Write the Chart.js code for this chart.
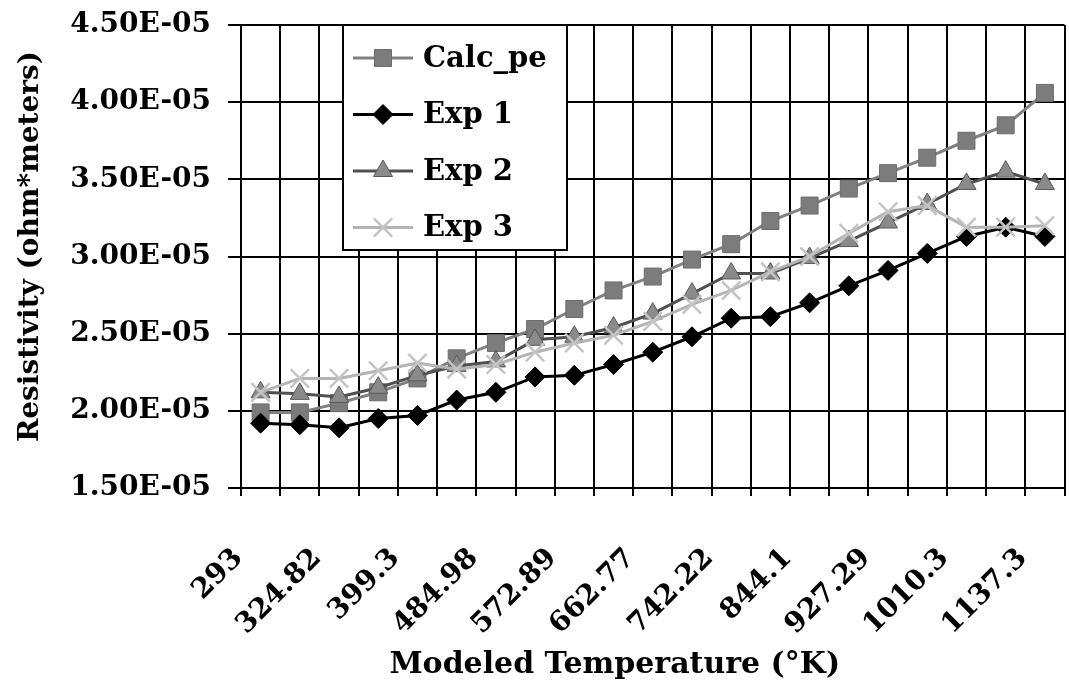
<!DOCTYPE html>
<html>
<head>
<meta charset="utf-8">
<title>Resistivity vs Modeled Temperature</title>
<script src="https://cdn.jsdelivr.net/npm/chart.js@4"></script>
<style>
  html, body { margin: 0; padding: 0; background: #fff; overflow: hidden; }
  #wrap { width: 1069px; height: 689px; overflow: hidden; position: relative; }
  canvas { position: absolute; left: 0; top: 0; }
</style>
</head>
<body>
<div id="wrap"><canvas id="chart" width="1080" height="689"></canvas></div>
<script>
// modeled temperature (K) - only every other category is labelled on the axis
const temps = ['293', '', '324.82', '', '399.3', '', '484.98', '', '572.89', '', '662.77',
    '', '742.22', '', '844.1', '', '927.29', '', '1010.3', '', '1137.3'];

// resistivity, ohm*meters
const calcPe = [1.99e-5, 1.99e-5, 2.05e-5, 2.12e-5, 2.21e-5, 2.34e-5, 2.44e-5, 2.53e-5, 2.66e-5, 2.78e-5, 2.87e-5,
    2.98e-5, 3.08e-5, 3.23e-5, 3.33e-5, 3.44e-5, 3.54e-5, 3.64e-5, 3.75e-5, 3.85e-5, 4.06e-5];
const exp1 = [1.92e-5, 1.91e-5, 1.89e-5, 1.95e-5, 1.97e-5, 2.07e-5, 2.12e-5, 2.22e-5, 2.23e-5, 2.30e-5, 2.38e-5,
    2.48e-5, 2.60e-5, 2.61e-5, 2.70e-5, 2.81e-5, 2.91e-5, 3.02e-5, 3.13e-5, 3.19e-5, 3.13e-5];
const exp2 = [2.12e-5, 2.11e-5, 2.09e-5, 2.15e-5, 2.23e-5, 2.29e-5, 2.32e-5, 2.46e-5, 2.48e-5, 2.54e-5, 2.63e-5,
    2.76e-5, 2.89e-5, 2.89e-5, 2.99e-5, 3.10e-5, 3.22e-5, 3.34e-5, 3.47e-5, 3.55e-5, 3.47e-5];
const exp3 = [2.12e-5, 2.21e-5, 2.21e-5, 2.26e-5, 2.31e-5, 2.27e-5, 2.30e-5, 2.38e-5, 2.44e-5, 2.49e-5, 2.58e-5,
    2.69e-5, 2.78e-5, 2.90e-5, 3.00e-5, 3.15e-5, 3.29e-5, 3.33e-5, 3.19e-5, 3.19e-5, 3.20e-5];

const axisFont = { family: '"DejaVu Serif", serif', size: 28, weight: 'bold' };
const xTitle = 'Modeled Temperature (°K)';
const yTitle = 'Resistivity (ohm*meters)';

// excel style 4.50E-05
const sci = (v) => {
    const [m, e] = Number(v).toExponential(2).split('e');
    const n = parseInt(e, 10);
    return m + 'E' + (n < 0 ? '-' : '+') + String(Math.abs(n)).padStart(2, '0');
};

// legend box sitting inside the plot, plus both axis titles
// (the original has them a little off centre, so they are placed by hand)
const boxLegend = {
    id: 'boxLegend',
    afterDraw(chart) {
        const ctx = chart.ctx;
        const area = chart.chartArea;
        const x0 = area.left + 102, y0 = area.top, w = 224, h = 225;
        ctx.save();
        ctx.fillStyle = '#fff';
        ctx.fillRect(x0, y0, w, h);
        ctx.lineWidth = 2;
        ctx.strokeStyle = '#000';
        ctx.strokeRect(x0, y0, w, h);
        chart.data.datasets.forEach((ds, i) => {
            const y = y0 + 33 + i * 56.5;
            ctx.strokeStyle = ds.borderColor;
            ctx.lineWidth = ds.borderWidth;
            ctx.beginPath();
            ctx.moveTo(x0 + 10, y);
            ctx.lineTo(x0 + 70, y);
            ctx.stroke();
            ctx.fillStyle = ds.pointBackgroundColor;
            ctx.strokeStyle = ds.pointBorderColor;
            ctx.lineWidth = ds.pointBorderWidth;
            Chart.helpers.drawPoint(ctx, {
                pointStyle: ds.pointStyle,
                radius: ds.pointRadius,
                rotation: 0,
                borderWidth: ds.pointBorderWidth
            }, x0 + 40, y);
            ctx.fillStyle = '#000';
            ctx.font = 'bold 29px "DejaVu Serif"';
            ctx.textBaseline = 'middle';
            ctx.textAlign = 'left';
            ctx.fillText(ds.label, x0 + 80, y + 1);
        });

        ctx.fillStyle = '#000';
        ctx.textAlign = 'center';
        ctx.textBaseline = 'middle';
        ctx.font = 'bold 30px "DejaVu Serif"';
        ctx.fillText(xTitle, (area.left + area.right) / 2 - 38, 665);

        ctx.font = 'bold 28px "DejaVu Serif"';
        ctx.translate(31, (area.top + area.bottom) / 2 - 10);
        ctx.rotate(-Math.PI / 2);
        ctx.fillText(yTitle, 0, 0);
        ctx.restore();
    }
};

const series = (label, data, line, fill, edge, style, radius, order) => ({
    label: label,
    data: data,
    borderColor: line,
    borderWidth: 3,
    pointStyle: style,
    pointRadius: radius,
    pointBackgroundColor: fill,
    pointBorderColor: edge,
    pointBorderWidth: style === 'crossRot' ? 2.5 : 1,
    tension: 0,
    order: order
});

new Chart(document.getElementById('chart'), {
    type: 'line',
    data: {
        labels: temps,
        datasets: [
            series('Calc_pe', calcPe, '#808080', '#7c7c7c', '#6c6c6c', 'rect', 12, 3),
            series('Exp 1', exp1, '#000000', '#000000', '#000000', 'rectRot', 10, 2),
            series('Exp 2', exp2, '#505050', '#8a8a8a', '#5a5a5a', 'triangle', 11, 1),
            series('Exp 3', exp3, '#b4b4b4', '#c4c4c4', '#c4c4c4', 'crossRot', 13, 0)
        ]
    },
    options: {
        responsive: false,
        animation: false,
        layout: { padding: { top: 25, right: 6, left: 0, bottom: 0 } },
        plugins: {
            legend: { display: false },
            tooltip: { enabled: false }
        },
        scales: {
            x: {
                offset: true,
                grid: { offset: true, color: '#000', lineWidth: 2, tickLength: 8 },
                border: { color: '#000', width: 2 },
                ticks: {
                    autoSkip: false,
                    minRotation: 45,
                    maxRotation: 45,
                    labelOffset: -22,
                    padding: 46,
                    color: '#000',
                    font: axisFont
                },
                afterFit(scale) {
                    scale.height = 201;
                    scale.paddingLeft = 0;
                    scale.paddingRight = 0;
                }
            },
            y: {
                min: 1.5e-5,
                max: 4.5e-5,
                ticks: {
                    stepSize: 0.5e-5,
                    padding: 17,
                    color: '#000',
                    font: axisFont,
                    callback: (v) => sci(v)
                },
                grid: { color: '#000', lineWidth: 2, tickLength: 13 },
                border: { color: '#000', width: 2 },
                afterFit(scale) {
                    scale.width = 241;
                    scale.paddingTop = 0;
                    scale.paddingBottom = 0;
                }
            }
        }
    },
    plugins: [boxLegend]
});
</script>
</body>
</html>
